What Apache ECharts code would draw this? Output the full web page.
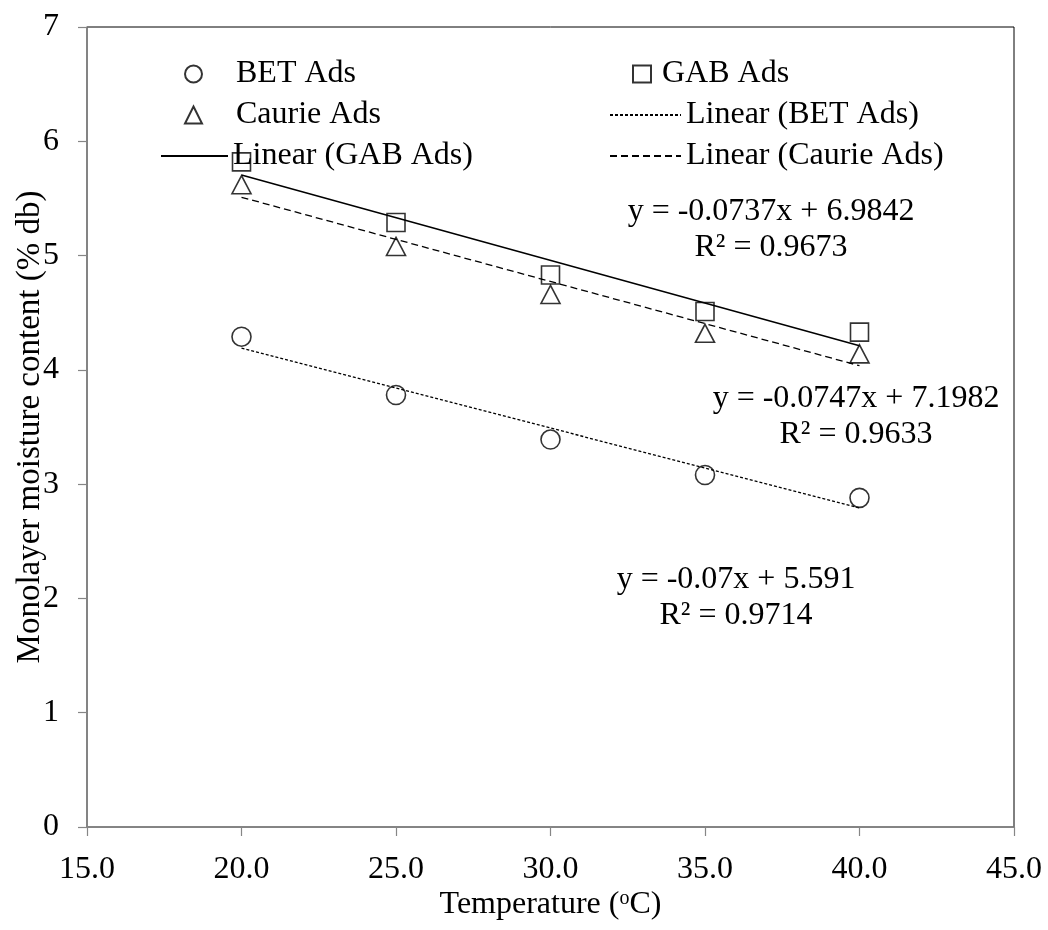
<!DOCTYPE html>
<html>
<head>
<meta charset="utf-8">
<script src="https://cdn.jsdelivr.net/npm/echarts@6/dist/echarts.min.js"></script>
<style>
  html, body { margin: 0; padding: 0; background: #fff; }
  #chart { width: 1048px; height: 930px; }
</style>
</head>
<body>
<div id="chart"></div>
<script>
// Monolayer moisture content vs. temperature (adsorption)
const temperatures = [20, 25, 30, 35, 40];
const betAds = [4.29, 3.78, 3.39, 3.08, 2.88];
const gabAds = [5.82, 5.29, 4.83, 4.51, 4.33];
const caurieAds = [5.62, 5.08, 4.66, 4.32, 4.14];

// Linear trend lines: BET, GAB, Caurie
const fitNames = ['Linear (BET Ads)', 'Linear (GAB Ads)', 'Linear (Caurie Ads)'];
const fitSlopes = [-0.07, -0.0747, -0.0737];
const fitIntercepts = [5.591, 7.1982, 6.9842];
const fitR2 = ['0.9714', '0.9633', '0.9673'];
const fitRange = [20, 40];

const xTicks = { min: 15, max: 45, interval: 5 };
const yTicks = { min: 0, max: 7, interval: 1 };

const FONT = 'Liberation Serif, Times New Roman, serif';
const FS = 32;

function pairs(xs, ys) { return xs.map((x, i) => [x, ys[i]]); }
function fitLine(k) {
  return fitRange.map(x => [x, +(fitSlopes[k] * x + fitIntercepts[k]).toFixed(4)]);
}
function eqText(k) {
  const m = fitSlopes[k], b = fitIntercepts[k];
  return 'y = ' + m + 'x + ' + b + '\nR\u00b2 = ' + fitR2[k];
}

const markerStyle = { color: 'rgba(0,0,0,0)', borderColor: '#000', borderWidth: 1.6 };
const lineItemStyle = { color: 'rgba(0,0,0,0)', borderWidth: 0 };
const legendText = { fontFamily: FONT, fontSize: FS, color: '#000', lineHeight: 32 };

const chart = echarts.init(document.getElementById('chart'), null, { renderer: 'canvas' });

const eqPos = [
  { x: 736, y: 598 },   // BET
  { x: 856, y: 417 },   // GAB
  { x: 771, y: 230 }    // Caurie
];

const legendTop = 58;
const legendRow = 41;

chart.setOption({
  animation: false,
  backgroundColor: '#fff',
  textStyle: { fontFamily: FONT, color: '#000' },
  grid: {
    left: 87, right: 34, top: 27, bottom: 103,
    outerBoundsMode: 'none',
    containLabel: false,
    show: true, borderColor: '#000', borderWidth: 1, backgroundColor: 'transparent'
  },
  xAxis: {
    type: 'value',
    min: xTicks.min, max: xTicks.max, interval: xTicks.interval,
    name: '{a|Temperature (}{s|o}{a|C)}',
    nameLocation: 'middle',
    nameGap: 62,
    nameMoveOverlap: false,
    nameTextStyle: {
      rich: {
        a: { fontFamily: FONT, fontSize: FS, color: '#000', lineHeight: 32 },
        s: { fontFamily: FONT, fontSize: 20, color: '#000', lineHeight: 20, verticalAlign: 'top' }
      }
    },
    axisLine: { show: true, onZero: false, lineStyle: { color: '#868686', width: 1.5 } },
    axisTick: { show: true, inside: false, length: 9, lineStyle: { color: '#868686', width: 1.2 } },
    axisLabel: {
      margin: 27, fontFamily: FONT, fontSize: FS, color: '#000',
      formatter: v => v.toFixed(1)
    },
    splitLine: { show: false }
  },
  yAxis: {
    type: 'value',
    min: yTicks.min, max: yTicks.max, interval: yTicks.interval,
    name: 'Monolayer moisture content (% db)',
    nameLocation: 'middle',
    nameGap: 40,
    nameMoveOverlap: false,
    nameTextStyle: { fontFamily: FONT, fontSize: 33, color: '#000', lineHeight: 33 },
    axisLine: { show: true, onZero: false, lineStyle: { color: '#868686', width: 1.5 } },
    axisTick: { show: true, inside: false, length: 9, lineStyle: { color: '#868686', width: 1.2 } },
    axisLabel: { margin: 28, fontFamily: FONT, fontSize: FS, color: '#000' },
    splitLine: { show: false }
  },
  legend: [
    {
      orient: 'vertical', left: 184, top: legendTop, padding: 0,
      itemWidth: 17, itemHeight: 17, itemGap: legendRow - 32,
      selectedMode: false,
      data: ['BET Ads', 'Caurie Ads'],
      textStyle: Object.assign({ padding: [0, 0, 0, 29] }, legendText)
    },
    {
      orient: 'vertical', left: 160, top: legendTop + 2 * legendRow, padding: 0,
      itemWidth: 67, itemHeight: 17, itemGap: legendRow - 32,
      selectedMode: false,
      data: ['Linear (GAB Ads)'],
      textStyle: legendText
    },
    {
      orient: 'vertical', left: 632, top: legendTop, padding: 0,
      itemWidth: 18, itemHeight: 17, itemGap: legendRow - 32,
      selectedMode: false,
      data: ['GAB Ads'],
      textStyle: Object.assign({ padding: [0, 0, 0, 6] }, legendText)
    },
    {
      orient: 'vertical', left: 609, top: legendTop + legendRow, padding: 0,
      itemWidth: 71, itemHeight: 17, itemGap: legendRow - 32,
      selectedMode: false,
      data: ['Linear (BET Ads)', 'Linear (Caurie Ads)'],
      textStyle: legendText
    }
  ],
  graphic: eqPos.map((p, k) => ({
    type: 'text',
    x: p.x, y: p.y, z: 10,
    style: {
      text: eqText(k),
      font: FS + 'px ' + FONT,
      fill: '#000',
      align: 'center',
      verticalAlign: 'middle',
      lineHeight: 36
    }
  })),
  series: [
    {
      name: fitNames[0], type: 'line', data: fitLine(0), symbol: 'none', z: 2,
      itemStyle: lineItemStyle,
      lineStyle: { color: '#000', width: 1.3, type: [3, 2] }
    },
    {
      name: fitNames[1], type: 'line', data: fitLine(1), symbol: 'none', z: 2,
      itemStyle: lineItemStyle,
      lineStyle: { color: '#000', width: 1.5, type: 'solid' }
    },
    {
      name: fitNames[2], type: 'line', data: fitLine(2), symbol: 'none', z: 2,
      itemStyle: lineItemStyle,
      lineStyle: { color: '#000', width: 1.3, type: [7, 4] }
    },
    {
      name: 'BET Ads', type: 'scatter', data: pairs(temperatures, betAds),
      symbol: 'circle', symbolSize: 19, itemStyle: markerStyle, z: 3
    },
    {
      name: 'GAB Ads', type: 'scatter', data: pairs(temperatures, gabAds),
      symbol: 'rect', symbolSize: 18, itemStyle: markerStyle, z: 3
    },
    {
      name: 'Caurie Ads', type: 'scatter', data: pairs(temperatures, caurieAds),
      symbol: 'triangle', symbolSize: [19, 18], itemStyle: markerStyle, z: 3
    }
  ]
});
</script>
</body>
</html>
